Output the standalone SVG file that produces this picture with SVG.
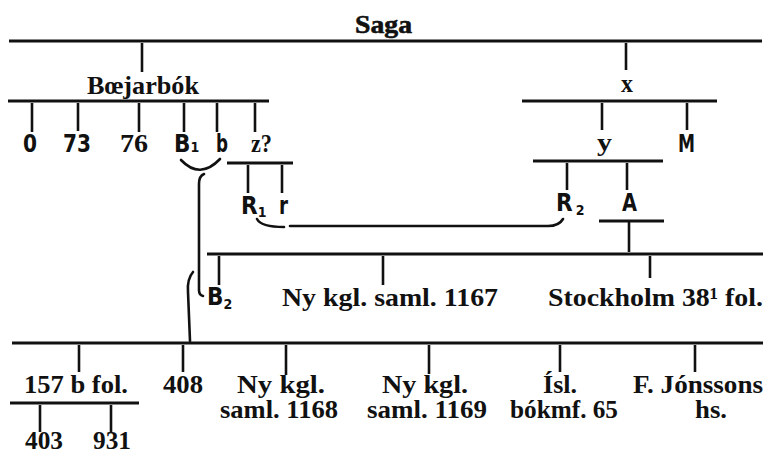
<svg xmlns="http://www.w3.org/2000/svg" width="767" height="454" viewBox="0 0 767 454">
<style>
.h{stroke:#111;stroke-width:3;fill:none}
.v{stroke:#111;stroke-width:2.6;fill:none}
.c{stroke:#111;stroke-width:2.6;fill:none;stroke-linecap:round}
text{fill:#111}
.s{font-family:"Liberation Serif","Times New Roman",serif;font-size:26px;font-weight:bold}
.sb{font-family:"Liberation Serif","Times New Roman",serif;font-size:26px;font-weight:bold;stroke:#111;stroke-width:0.6}
.g{font-family:"DejaVu Sans Condensed","DejaVu Sans",sans-serif;font-stretch:condensed;font-weight:bold;font-size:24px}
.sub{font-size:14px}
</style>
<rect width="767" height="454" fill="#fff"/>
<g id="connectors">
<line class="h" x1="9" y1="41" x2="762" y2="41"/>
<line class="v" x1="142" y1="43" x2="142" y2="72"/>
<line class="v" x1="626" y1="43" x2="626" y2="70"/>
<line class="h" x1="8" y1="101" x2="269" y2="101"/>
<line class="v" x1="32" y1="103" x2="32" y2="132"/>
<line class="v" x1="78" y1="103" x2="78" y2="131"/>
<line class="v" x1="139" y1="103" x2="139" y2="132"/>
<line class="v" x1="184" y1="103" x2="184" y2="132"/>
<line class="v" x1="217" y1="103" x2="217" y2="132"/>
<line class="v" x1="255" y1="103" x2="255" y2="132"/>
<line class="h" x1="522" y1="101" x2="717" y2="101"/>
<line class="v" x1="602" y1="103" x2="602" y2="130"/>
<line class="v" x1="687" y1="103" x2="687" y2="130"/>
<line class="h" x1="533" y1="161" x2="663" y2="161"/>
<line class="v" x1="567" y1="163" x2="567" y2="190"/>
<line class="v" x1="627" y1="163" x2="627" y2="190"/>
<line class="h" x1="599" y1="221" x2="664" y2="221"/>
<line class="v" x1="629" y1="222" x2="629" y2="252"/>
<line class="h" x1="227" y1="163" x2="293" y2="163"/>
<line class="v" x1="248" y1="165" x2="248" y2="193"/>
<line class="v" x1="282" y1="165" x2="282" y2="193"/>
<line class="h" x1="207" y1="254" x2="763" y2="254"/>
<line class="v" x1="219" y1="256" x2="219" y2="285"/>
<line class="v" x1="383" y1="256" x2="383" y2="285"/>
<line class="v" x1="650" y1="256" x2="650" y2="278"/>
<line class="h" x1="12" y1="343" x2="763" y2="343"/>
<line class="v" x1="79" y1="345" x2="79" y2="372"/>
<line class="v" x1="183" y1="345" x2="183" y2="372"/>
<line class="v" x1="286" y1="345" x2="286" y2="375"/>
<line class="v" x1="429" y1="345" x2="429" y2="374"/>
<line class="v" x1="560" y1="345" x2="560" y2="372"/>
<line class="v" x1="695" y1="345" x2="695" y2="372"/>
<line class="h" x1="10" y1="403" x2="139" y2="403"/>
<line class="v" x1="40" y1="405" x2="40" y2="432"/>
<line class="v" x1="111" y1="405" x2="111" y2="432"/>
<path class="c" d="M181,160 Q200,180 220,159"/>
<path class="c" d="M204,174 Q199,176 199,184 L199,290 Q199,295 203,296"/>
<path class="c" d="M193,272 Q187,279 188,292 L190,341"/>
<path class="c" d="M257,219 Q261,227 284,227"/>
<path class="c" d="M290,226 L548,226 Q559,226 563,219"/>
</g>
<g id="saga"><text class="sb" x="355" y="33" textLength="57" lengthAdjust="spacingAndGlyphs">Saga</text></g>
<g id="boejarbok"><text class="s" x="87" y="94" textLength="112" lengthAdjust="spacingAndGlyphs" font-size="25">Bœjarbók</text></g>
<g id="x"><text class="s" x="621" y="92" textLength="12" lengthAdjust="spacingAndGlyphs">x</text></g>
<g id="y"><text class="s" x="597" y="151" textLength="15" lengthAdjust="spacingAndGlyphs">y</text></g>
<g id="M"><text class="g" x="678" y="152" textLength="17" lengthAdjust="spacingAndGlyphs">M</text></g>
<g id="n0"><text class="g" x="23" y="152" textLength="14" lengthAdjust="spacingAndGlyphs">0</text></g>
<g id="n73"><text class="g" x="63" y="152" textLength="28" lengthAdjust="spacingAndGlyphs">73</text></g>
<g id="n76"><text class="s" x="120" y="152" textLength="28" lengthAdjust="spacingAndGlyphs" font-weight="normal">76</text></g>
<g id="B1"><text class="g" x="174" y="152">B<tspan class="sub" dx="0">1</tspan></text></g>
<g id="b"><text class="g" x="216" y="152" textLength="12" lengthAdjust="spacingAndGlyphs">b</text></g>
<g id="z"><text class="s" x="251" y="152" textLength="21" lengthAdjust="spacingAndGlyphs">z?</text></g>
<g id="R1"><text class="g" x="241" y="214">R<tspan class="sub" dy="3">1</tspan></text></g>
<g id="r"><text class="g" x="279" y="214" textLength="9" lengthAdjust="spacingAndGlyphs">r</text></g>
<g id="R2"><text class="g" x="556" y="211">R<tspan class="sub" dx="3" dy="4">2</tspan></text></g>
<g id="A"><text class="g" x="622" y="211" textLength="15" lengthAdjust="spacingAndGlyphs">A</text></g>
<g id="B2"><text class="g" x="207" y="305">B<tspan class="sub" dy="4">2</tspan></text></g>
<g id="nks1167"><text class="s" x="282" y="306" textLength="216" lengthAdjust="spacingAndGlyphs">Ny kgl. saml. 1167</text></g>
<g id="stockholm"><text class="s" x="548" y="306" textLength="215" lengthAdjust="spacingAndGlyphs">Stockholm 38¹ fol.</text></g>
<g id="n157b"><text class="s" x="24" y="393" textLength="104" lengthAdjust="spacingAndGlyphs">157 b fol.</text></g>
<g id="n408"><text class="s" x="163" y="393" textLength="40" lengthAdjust="spacingAndGlyphs">408</text></g>
<g id="nks1168"><text class="s" font-size="25"><tspan x="237" y="393" textLength="88" lengthAdjust="spacingAndGlyphs">Ny kgl.</tspan><tspan x="220" y="418" textLength="118" lengthAdjust="spacingAndGlyphs">saml. 1168</tspan></text></g>
<g id="nks1169"><text class="s" font-size="25"><tspan x="382" y="393" textLength="86" lengthAdjust="spacingAndGlyphs">Ny kgl.</tspan><tspan x="367" y="418" textLength="120" lengthAdjust="spacingAndGlyphs">saml. 1169</tspan></text></g>
<g id="isl65"><text class="s" font-size="25"><tspan x="543" y="393" textLength="34" lengthAdjust="spacingAndGlyphs">Ísl.</tspan><tspan x="510" y="418" textLength="108" lengthAdjust="spacingAndGlyphs">bókmf. 65</tspan></text></g>
<g id="fjonsson"><text class="s" font-size="25"><tspan x="633" y="393" textLength="130" lengthAdjust="spacingAndGlyphs">F. Jónssons</tspan><tspan x="695" y="418" textLength="32" lengthAdjust="spacingAndGlyphs">hs.</tspan></text></g>
<g id="n403"><text class="s" x="25" y="449" textLength="38" lengthAdjust="spacingAndGlyphs" font-size="24">403</text></g>
<g id="n931"><text class="s" x="93" y="449" textLength="38" lengthAdjust="spacingAndGlyphs" font-size="24">931</text></g>
</svg>
